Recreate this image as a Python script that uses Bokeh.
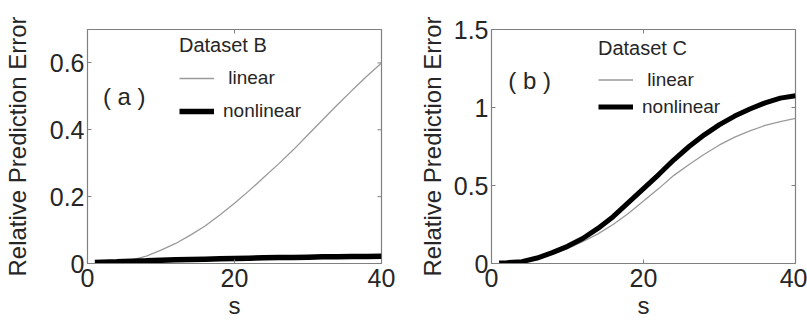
import math
from bokeh.plotting import figure
from bokeh.layouts import row
from bokeh.models import Range1d, FixedTicker, Label, Legend, LegendItem
from bokeh.embed import file_html
from bokeh.resources import INLINE

# ---- data ----
s = [1, 2, 4, 6, 8, 10, 12, 14, 16, 18, 20, 22, 24, 26, 28, 30, 32, 34, 36, 38, 40]
b_linear = [0.0, 0.001, 0.004, 0.01, 0.022, 0.04, 0.06, 0.085, 0.112, 0.145, 0.18,
            0.218, 0.258, 0.298, 0.34, 0.385, 0.43, 0.475, 0.518, 0.56, 0.60]
b_nonlinear = [0.003, 0.004, 0.005, 0.007, 0.008, 0.01, 0.011, 0.012, 0.013, 0.014, 0.015,
               0.016, 0.017, 0.018, 0.018, 0.019, 0.02, 0.02, 0.021, 0.021, 0.022]
c_linear = [0.003, 0.004, 0.01, 0.03, 0.06, 0.095, 0.14, 0.19, 0.25, 0.32, 0.40,
            0.48, 0.565, 0.635, 0.70, 0.76, 0.81, 0.85, 0.885, 0.91, 0.93]
c_nonlinear = [0.003, 0.005, 0.012, 0.035, 0.07, 0.11, 0.16, 0.225, 0.30, 0.39, 0.48,
               0.57, 0.665, 0.75, 0.825, 0.89, 0.945, 0.99, 1.03, 1.06, 1.075]

x_ticks = [0, 20, 40]
x_tick_labels = ["0", "20", "40"]
a_y_ticks = [0, 0.2, 0.4, 0.6]
a_y_tick_labels = ["0", "0.2", "0.4", "0.6"]
b_y_ticks = [0, 0.5, 1, 1.5]
b_y_tick_labels = ["0", "0.5", "1", "1.5"]

FONT = "Liberation Sans"
TXT = "#262626"
FRAME = "#808080"
XMAX = 40


def make_panel(width, border_left, border_right, ymax, yticks, ylabels, lin, nonlin,
               title, tag, tag_xy, leg_loc, glyph_h, spacing, nl_width, ylab_standoff):
    p = figure(width=width, height=321, output_backend="svg", toolbar_location=None,
               x_range=Range1d(0, XMAX), y_range=Range1d(0, ymax),
               min_border_left=border_left, min_border_right=border_right,
               min_border_top=29, min_border_bottom=56)
    p.grid.visible = False
    p.outline_line_color = FRAME
    p.outline_line_width = 1.2
    p.background_fill_color = "white"
    p.border_fill_color = "white"

    p.xaxis.ticker = FixedTicker(ticks=x_ticks)
    p.xaxis.major_label_overrides = dict(zip(x_ticks, x_tick_labels))
    p.yaxis.ticker = FixedTicker(ticks=yticks)
    p.yaxis.major_label_overrides = dict(zip(yticks, ylabels))
    for ax in (p.xaxis, p.yaxis):
        ax.axis_line_color = FRAME
        ax.major_tick_line_color = FRAME
        ax.major_tick_in = 4
        ax.major_tick_out = 0
        ax.minor_tick_line_color = None
        ax.major_label_text_font = FONT
        ax.major_label_text_font_size = "25px"
        ax.major_label_text_color = TXT
        ax.axis_label_text_font = FONT
        ax.axis_label_text_font_size = "24px"
        ax.axis_label_text_font_style = "normal"
        ax.axis_label_text_color = TXT
    p.xaxis.axis_label = "s"
    p.yaxis.axis_label = "Relative Prediction Error"
    p.xaxis.major_label_standoff = 5
    p.yaxis.major_label_standoff = 3
    p.xaxis.axis_label_standoff = 2
    p.yaxis.axis_label_standoff = ylab_standoff

    # box ticks on top and right (dash markers clipped by the frame -> inward ticks)
    p.scatter(x_ticks, [ymax] * len(x_ticks), marker="dash", size=8, angle=math.pi / 2,
              line_color=FRAME, line_width=1)
    p.scatter([XMAX] * len(yticks), yticks, marker="dash", size=8,
              line_color=FRAME, line_width=1)

    r_lin = p.line(s, lin, line_color="#9a9a9a", line_width=1.3)
    r_non = p.line(s, nonlin, line_color="black", line_width=nl_width)

    legend = Legend(items=[LegendItem(label=" linear", renderers=[r_lin]),
                           LegendItem(label="nonlinear", renderers=[r_non])],
                    location=leg_loc, title=title)
    legend.border_line_alpha = 0
    legend.background_fill_alpha = 0
    legend.padding = 0
    legend.margin = 0
    legend.glyph_width = 35
    legend.glyph_height = glyph_h
    legend.spacing = spacing
    legend.label_standoff = 9
    legend.label_text_font = FONT
    legend.label_text_font_size = "19px"
    legend.label_text_color = TXT
    legend.title_text_font = FONT
    legend.title_text_font_size = "20px"
    legend.title_text_font_style = "normal"
    legend.title_text_color = TXT
    legend.title_standoff = 6
    p.add_layout(legend, "center")

    p.add_layout(Label(x=tag_xy[0], y=tag_xy[1], text=tag, text_font=FONT,
                       text_font_size="24px", text_color=TXT, text_baseline="middle"))
    return p


pa = make_panel(400, 80, 19, 0.7, a_y_ticks, a_y_tick_labels, b_linear, b_nonlinear,
                "Dataset B", "( a )", (2.1, 0.5), (92, 137), 30, 3, 5.5, 16)
pb = make_panel(407, 91, 12, 1.5, b_y_ticks, b_y_tick_labels, c_linear, c_nonlinear,
                "Dataset C", "( b )", (2.2, 1.176), (107, 143), 27, 0, 5.0, 5)

layout = row(pa, pb)
open("out.html", "w").write(file_html(layout, INLINE))
